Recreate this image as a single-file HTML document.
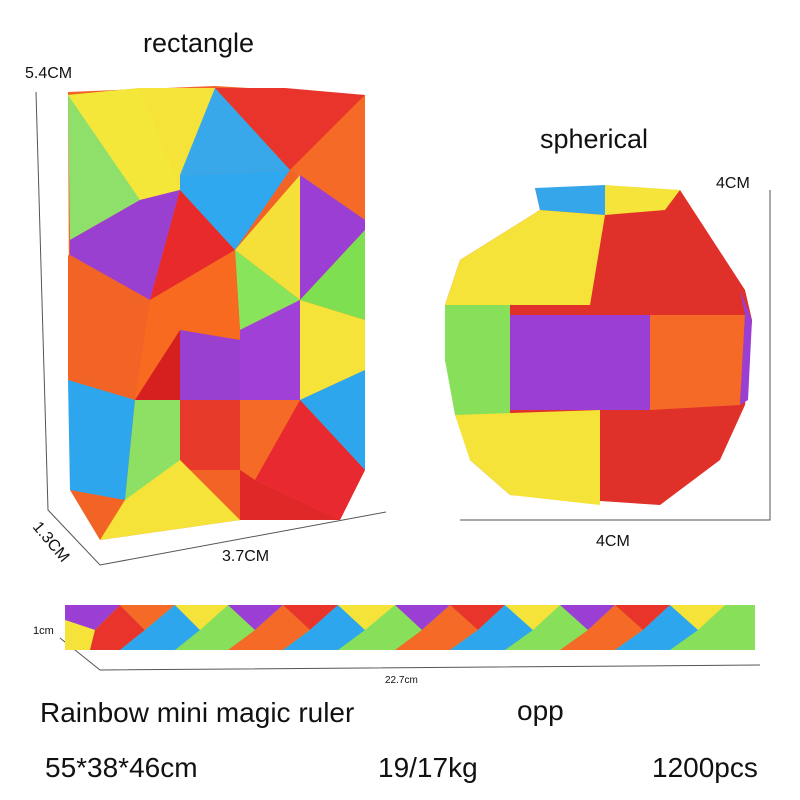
<!DOCTYPE html>
<html><head><meta charset="utf-8"><style>
html,body{margin:0;padding:0;background:#fff;}
svg{display:block;}
text{font-family:"Liberation Sans",sans-serif;fill:#111;}
</style></head><body>
<svg width="800" height="800" viewBox="0 0 800 800" xmlns="http://www.w3.org/2000/svg">
<rect width="800" height="800" fill="#fff"/>
<g stroke="#555" stroke-width="1" fill="none">
<polyline points="36,92 48,510 100,565 386,512"/>
<polyline points="770,190 770,520 460,520"/>
<polyline points="60,638 100,670 760,665"/>
</g>
<!-- rectangle block base -->
<polygon points="68,92 215,86 365,95 365,470 340,520 240,520 100,540 70,490" fill="#f26426"/>
<g>
<polygon points="68,95 140,88 140,200 70,240" fill="#8ee06a"/>
<polygon points="68,95 140,88 215,88 180,190 140,200" fill="#f5e63a"/>
<polygon points="140,88 215,88 180,190" fill="#f5e33a"/>
<polygon points="215,88 285,88 365,95 290,170" fill="#e8342a"/>
<polygon points="215,88 290,170 180,175" fill="#38a8ea"/>
<polygon points="290,170 365,95 365,220" fill="#f56a26"/>
<polygon points="70,240 140,200 180,190 150,300 70,255" fill="#9a40d0"/>
<polygon points="180,190 235,250 150,300" fill="#e82a2a"/>
<polygon points="180,175 290,170 235,250 180,190" fill="#30a8f0"/>
<polygon points="235,250 300,175 300,300" fill="#f5e03a"/>
<polygon points="300,175 365,220 365,230 300,300" fill="#9b3ed4"/>
<polygon points="300,300 365,230 365,320" fill="#7ee050"/>
<polygon points="235,250 300,300 240,330" fill="#88e45a"/>
<polygon points="68,255 150,300 135,400 68,380" fill="#f26426"/>
<polygon points="150,300 235,250 240,330 240,340 180,330 135,400" fill="#f76a20"/>
<polygon points="135,400 180,330 180,400" fill="#d62020"/>
<polygon points="180,330 240,340 240,400 180,400" fill="#9a40d0"/>
<polygon points="240,330 300,300 300,400 240,400" fill="#a140d6"/>
<polygon points="300,300 365,320 365,370 300,400" fill="#f5e33a"/>
<polygon points="68,380 135,400 125,500 70,490" fill="#2ea6ee"/>
<polygon points="135,400 180,400 180,470 125,500" fill="#8ee064"/>
<polygon points="180,400 240,400 240,470 180,470" fill="#e83a2a"/>
<polygon points="240,400 300,400 255,480 240,470" fill="#f56a26"/>
<polygon points="300,400 365,370 365,470" fill="#2ea6ee"/>
<polygon points="255,480 300,400 365,470 340,520" fill="#e82a30"/>
<polygon points="125,500 180,460 240,520 100,540" fill="#f5e33a"/>
<polygon points="240,520 340,520 255,480 240,470" fill="#e02828"/>
</g>
<!-- sphere base -->
<polygon points="535,188 680,190 745,290 752,320 745,405 720,460 660,505 510,495 470,460 445,360 445,305 460,260 540,210" fill="#e0302a"/>
<g>
<polygon points="535,188 605,185 605,215 540,210" fill="#36a6ea"/>
<polygon points="605,185 680,190 665,210 605,215" fill="#f5e43a"/>
<polygon points="540,210 605,215 590,305 445,305 460,260" fill="#f5e33a"/>
<polygon points="445,305 510,305 510,415 455,415 445,360" fill="#88e05a"/>
<polygon points="510,315 650,315 650,410 510,410" fill="#9a3ed4"/>
<polygon points="650,315 745,315 740,405 650,410" fill="#f56a26"/>
<polygon points="455,415 600,410 600,505 510,495 470,460" fill="#f5e33a"/>
<polygon points="740,290 752,320 748,400 740,405 745,315" fill="#9a3ed4"/>
</g>
<!-- ruler -->
<rect x="65" y="605" width="690" height="45" fill="#88e05a"/>
<g>
<polygon points="65,605 120,605 95,630 65,620" fill="#9a3ed4"/>
<polygon points="65,620 95,630 90,650 65,650" fill="#f5e33a"/>
<polygon points="95,630 120,605 145,630 120,650 90,650" fill="#e8342a"/>
<polygon points="120,605 175,605 145,630" fill="#f56a26"/>
<polygon points="145,630 175,605 200,630 175,650 120,650" fill="#2ea6ee"/>
<polygon points="175,605 228,605 200,630" fill="#f5e33a"/>
<polygon points="228,605 283,605 255,630" fill="#9a3ed4"/>
<polygon points="255,630 283,605 310,630 283,650 228,650" fill="#f56a26"/>
<polygon points="283,605 338,605 310,630" fill="#e8342a"/>
<polygon points="310,630 338,605 365,630 338,650 283,650" fill="#2ea6ee"/>
<polygon points="338,605 395,605 365,630" fill="#f5e33a"/>
<polygon points="395,605 450,605 422,630" fill="#9a3ed4"/>
<polygon points="422,630 450,605 478,630 450,650 395,650" fill="#f56a26"/>
<polygon points="450,605 505,605 478,630" fill="#e8342a"/>
<polygon points="478,630 505,605 533,630 505,650 450,650" fill="#2ea6ee"/>
<polygon points="505,605 560,605 533,630" fill="#f5e33a"/>
<polygon points="560,605 615,605 588,630" fill="#9a3ed4"/>
<polygon points="588,630 615,605 643,630 615,650 560,650" fill="#f56a26"/>
<polygon points="615,605 670,605 643,630" fill="#e8342a"/>
<polygon points="643,630 670,605 698,630 670,650 615,650" fill="#2ea6ee"/>
<polygon points="670,605 725,605 698,630" fill="#f5e33a"/>
</g>
<text x="143" y="52" font-size="27">rectangle</text>
<text x="25" y="78" font-size="16">5.4CM</text>
<text x="540" y="148" font-size="27">spherical</text>
<text x="716" y="188" font-size="16">4CM</text>
<text x="222" y="561" font-size="16">3.7CM</text>
<text x="596" y="546" font-size="16">4CM</text>
<text transform="translate(32,527) rotate(50)" font-size="16">1.3CM</text>
<text x="33" y="634" font-size="11">1cm</text>
<text x="385" y="683" font-size="10">22.7cm</text>
<text x="40" y="722" font-size="28">Rainbow mini magic ruler</text>
<text x="517" y="720" font-size="28">opp</text>
<text x="45" y="777" font-size="28">55*38*46cm</text>
<text x="378" y="777" font-size="28">19/17kg</text>
<text x="652" y="777" font-size="28">1200pcs</text>
</svg>
</body></html>
